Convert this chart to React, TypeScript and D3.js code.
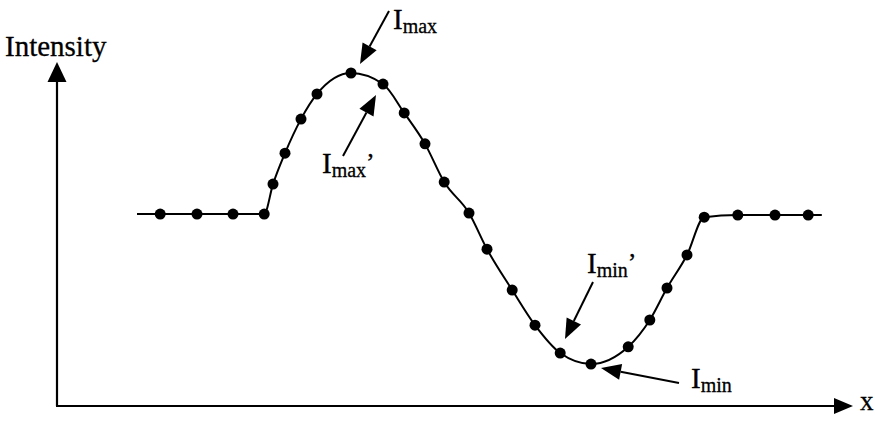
import React from "react";
import * as d3 from "d3";

// Curve samples (x position, intensity) in arbitrary units; first & last are line-only ends
const curveX = [10, 12.9, 17.5, 22.0, 25.9, 27.0, 28.5, 30.5, 32.5, 36.75, 40.75, 43.4, 46.0, 48.4, 51.5, 53.75, 56.9, 59.75, 62.9, 66.75, 71.4, 74.1, 76.25, 78.75, 80.9, 85.1, 89.75, 93.9, 95.6];
const curveY = [55.8, 55.8, 55.8, 55.8, 55.8, 64.5, 73.5, 83.4, 90.7, 96.8, 93.6, 85.2, 76.2, 65.1, 56.1, 45.6, 33.7, 23.5, 15.4, 12.2, 17.2, 25.0, 34.3, 43.9, 54.9, 55.5, 55.5, 55.5, 55.5];

type Ann = { main: string; sub: string; prime: boolean; lx: number; ly: number; tail: [number, number]; tip: [number, number] };
const annotations: Ann[] = [
  { main: "I", sub: "max", prime: false, lx: 393, ly: 29, tail: [389, 11], tip: [360, 64] },
  { main: "I", sub: "max", prime: true, lx: 322, ly: 173, tail: [343, 156], tip: [376, 95] },
  { main: "I", sub: "min", prime: true, lx: 587, ly: 273, tail: [593, 282], tip: [565, 339] },
  { main: "I", sub: "min", prime: false, lx: 691, ly: 388, tail: [679, 383], tip: [601, 368] },
];

const W = 875;
const H = 422;
const FONT = "'Liberation Serif', 'Times New Roman', serif";

function arrowHead(tail: [number, number], tip: [number, number], L = 20, w = 8) {
  const dx = tip[0] - tail[0];
  const dy = tip[1] - tail[1];
  const len = Math.hypot(dx, dy);
  const ux = dx / len, uy = dy / len;
  const bx = tip[0] - ux * L, by = tip[1] - uy * L;
  const px = -uy, py = ux;
  return {
    pts: `${tip[0]},${tip[1]} ${bx + px * w},${by + py * w} ${bx - px * w},${by - py * w}`,
    base: [bx, by] as [number, number],
  };
}

export default function App() {
  const x = d3.scaleLinear().domain([0, 100]).range([57, 857]);
  const y = d3.scaleLinear().domain([0, 100]).range([406, 62]);
  const pts = curveX.map((v, i) => [v, curveY[i]] as [number, number]);
  const line = d3
    .line<[number, number]>()
    .x((d) => x(d[0]))
    .y((d) => y(d[1]))
    .curve(d3.curveMonotoneX);
  const dots = pts.slice(1, -1);

  const x0 = x(0);
  const y0 = y(0);
  const yTop = y(100);
  const xEnd = x(99.5);

  return (
    <svg width={W} height={H} style={{ position: "absolute", left: 0, top: 0, background: "#fff" }}>
      {/* axes */}
      <line x1={x0} y1={y0} x2={x0} y2={yTop + 20} stroke="#000" strokeWidth={2.2} />
      <polygon points={`${x0},${yTop} ${x0 - 9.5},${yTop + 20} ${x0 + 9.5},${yTop + 20}`} fill="#000" />
      <line x1={x0 - 1} y1={y0} x2={xEnd - 18} y2={y0} stroke="#000" strokeWidth={2.2} />
      <polygon points={`${xEnd},${y0} ${xEnd - 19},${y0 - 8} ${xEnd - 19},${y0 + 8}`} fill="#000" />
      <text x={5} y={56} fontFamily={FONT} fontSize={29} fill="#000" stroke="#000" strokeWidth={0.3}>Intensity</text>
      <text x={860} y={410} fontFamily={FONT} fontSize={27} fill="#000" stroke="#000" strokeWidth={0.3}>x</text>

      {/* curve */}
      <path d={line(pts) || ""} fill="none" stroke="#000" strokeWidth={2} />
      {dots.map((d, i) => (
        <circle key={i} cx={x(d[0])} cy={y(d[1])} r={5.5} fill="#000" />
      ))}

      {/* annotations */}
      {annotations.map((a, i) => {
        const h = arrowHead(a.tail, a.tip);
        return (
          <g key={i}>
            <line x1={a.tail[0]} y1={a.tail[1]} x2={h.base[0]} y2={h.base[1]} stroke="#000" strokeWidth={2} />
            <polygon points={h.pts} fill="#000" />
            <text x={a.lx} y={a.ly} fontFamily={FONT} fontSize={29} fill="#000" stroke="#000" strokeWidth={0.3}>
              {a.main}
              <tspan fontSize={20} dy={4} dx={0}>{a.sub}</tspan>
              {a.prime ? <tspan fontSize={26} dy={-6}>’</tspan> : null}
            </text>
          </g>
        );
      })}
    </svg>
  );
}
